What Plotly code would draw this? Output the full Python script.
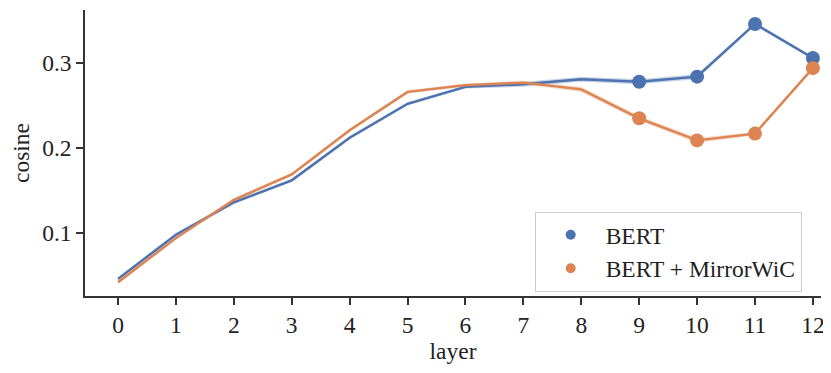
import plotly.graph_objects as go

# layers on the x axis
layers = [0, 1, 2, 3, 4, 5, 6, 7, 8, 9, 10, 11, 12]

# mean cosine per layer
bert = [0.046, 0.098, 0.136, 0.162, 0.212, 0.252, 0.272, 0.275, 0.281, 0.278, 0.284, 0.346, 0.306]
mirror = [0.042, 0.094, 0.139, 0.169, 0.221, 0.266, 0.274, 0.277, 0.269, 0.235, 0.209, 0.217, 0.294]

# half width of the shaded band around each line
bert_err = [0.002, 0.002, 0.002, 0.002, 0.002, 0.002, 0.002, 0.003, 0.003, 0.003, 0.003, 0.002, 0.002]
mirror_err = [0.002, 0.002, 0.002, 0.002, 0.002, 0.002, 0.002, 0.002, 0.003, 0.003, 0.003, 0.002, 0.002]

# only the last layers get dots
dot_layers = [9, 10, 11, 12]

series = [
    ("BERT", bert, bert_err, "#4C72B0", "rgba(76,114,176,0.3)"),
    ("BERT + MirrorWiC", mirror, mirror_err, "#DD8452", "rgba(221,132,82,0.3)"),
]

fig = go.Figure()

for name, vals, err, color, band in series:
    upper = [v + e for v, e in zip(vals, err)]
    lower = [v - e for v, e in zip(vals, err)]
    # shaded band
    fig.add_trace(go.Scatter(x=layers + layers[::-1], y=upper + lower[::-1],
                             fill="toself", fillcolor=band, line=dict(width=0),
                             mode="lines", showlegend=False, hoverinfo="skip"))
    # main line
    fig.add_trace(go.Scatter(x=layers, y=vals, mode="lines",
                             line=dict(color=color, width=2.4), showlegend=False))

for name, vals, err, color, band in series:
    dots = [vals[layers.index(l)] for l in dot_layers]
    fig.add_trace(go.Scatter(x=dot_layers, y=dots, mode="markers", showlegend=False,
                             marker=dict(color=color, size=14)))
    # legend entry with a smaller dot
    fig.add_trace(go.Scatter(x=[None], y=[None], mode="markers", name=name,
                             marker=dict(color=color, size=10)))

axis_font = dict(family="Liberation Serif", size=23.5, color="#222")

fig.update_xaxes(range=[-0.57, 12.14], tickvals=layers, showline=True, linewidth=1.6,
                 linecolor="#333", ticks="outside", ticklen=7, tickwidth=1.6, tickcolor="#333",
                 showgrid=False, zeroline=False, tickfont=axis_font,
                 title=dict(text="layer", font=axis_font, standoff=4))
fig.update_yaxes(range=[0.0259, 0.3624], tickvals=[0.1, 0.2, 0.3], ticktext=["0.1", "0.2", "0.3"],
                 showline=True, linewidth=1.6, linecolor="#333", ticks="outside", ticklen=7,
                 tickwidth=1.6, tickcolor="#333", showgrid=False, zeroline=False,
                 tickfont=axis_font, title=dict(text="cosine", font=axis_font, standoff=10))

# the page has an 8px body margin, so the figure is shrunk by that much
fig.update_layout(
    width=823, height=365,
    margin=dict(l=77, r=10, t=2, b=77),
    plot_bgcolor="white", paper_bgcolor="white",
    font=axis_font,
    legend=dict(x=0.611, y=0.294, xanchor="left", yanchor="top",
                bordercolor="#cccccc", borderwidth=1, bgcolor="rgba(255,255,255,0.8)",
                font=axis_font, itemwidth=60),
)

fig.write_html("out.html")
